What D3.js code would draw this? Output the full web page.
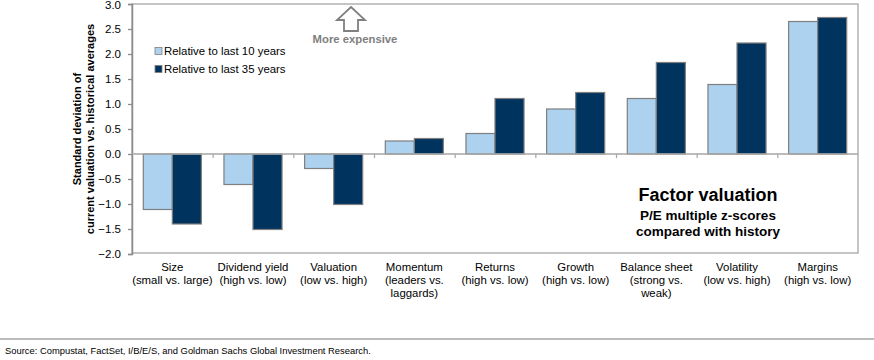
<!DOCTYPE html>
<html><head><meta charset="utf-8">
<script src="https://cdn.jsdelivr.net/npm/d3@7"></script>
<style>
body{margin:0;background:#fff;}
text{font-family:"Liberation Sans",Arial,sans-serif;}
</style></head>
<body>
<svg id="c" width="874" height="360"></svg>
<script>
const categories = [
  ["Size","(small vs. large)"],
  ["Dividend yield","(high vs. low)"],
  ["Valuation","(low vs. high)"],
  ["Momentum","(leaders vs.","laggards)"],
  ["Returns","(high vs. low)"],
  ["Growth","(high vs. low)"],
  ["Balance sheet","(strong vs.","weak)"],
  ["Volatility","(low vs. high)"],
  ["Margins","(high vs. low)"]
];
const seriesNames = ["Relative to last 10 years","Relative to last 35 years"];
const last10 = [-1.11,-0.61,-0.29,0.26,0.41,0.90,1.11,1.39,2.65];
const last35 = [-1.40,-1.51,-1.01,0.31,1.11,1.23,1.83,2.22,2.73];
const yTicks = [-2.0,-1.5,-1.0,-0.5,0.0,0.5,1.0,1.5,2.0,2.5,3.0];
const colors = ["#acd2ef","#00345e"];

const svg = d3.select("#c");
const L=132,R=858,T=4,B=254;
const x = d3.scaleBand().domain(categories.map((d,i)=>i)).range([L,R]).paddingInner(0.28).paddingOuter(0.14);
const y = d3.scaleLinear().domain([-2,3]).range([B,T]);
const xs = d3.scaleBand().domain([0,1]).range([0,x.bandwidth()]);

// plot frame
svg.append("rect").attr("x",L).attr("y",T).attr("width",R-L).attr("height",B-T-1)
  .attr("fill","none").attr("stroke","#a6a6a6").attr("stroke-width",1.3);

// y axis
const yAxis = d3.axisLeft(y).tickValues(yTicks).tickFormat(d3.format(".1f")).tickSize(4).tickPadding(7);
const ga = svg.append("g").attr("transform",`translate(${L},0)`).call(yAxis);
ga.select(".domain").attr("stroke","#8c8c8c").attr("stroke-width",1.5);
ga.selectAll(".tick line").attr("stroke","#8c8c8c").attr("stroke-width",1.3);
ga.selectAll(".tick text").attr("font-size",11.5).attr("fill","#000").style("font-family","Liberation Sans, Arial, sans-serif");
ga.selectAll(".tick text").filter(d=>d===3).attr("dy","0.4em");

// bars
const series=[last10,last35];
series.forEach((vals,s)=>{
  svg.append("g").selectAll("rect").data(vals).join("rect")
    .attr("x",(d,i)=>x(i)+xs(s))
    .attr("width",xs.bandwidth())
    .attr("y",d=>y(Math.max(0,d)))
    .attr("height",d=>Math.abs(y(d)-y(0)))
    .attr("fill",colors[s]).attr("stroke","#7f7f7f").attr("stroke-width",1.2);
});

// zero line with category ticks
const zx = d3.scaleLinear().domain([0,categories.length]).range([L,R]);
const gz = svg.append("g").attr("transform",`translate(0,${y(0)})`)
  .call(d3.axisBottom(zx).ticks(categories.length).tickSize(4).tickFormat(""));
gz.select(".domain").attr("stroke","#a6a6a6").attr("stroke-width",1.5).attr("d",`M${L},0H${R}`);
gz.selectAll(".tick line").attr("stroke","#a6a6a6").attr("stroke-width",1.2);
gz.selectAll(".tick").filter(d=>d===0||d===categories.length).remove();

// category labels
categories.forEach((lines,i)=>{
  const t = svg.append("text").attr("x",x(i)+x.bandwidth()/2).attr("y",271)
    .attr("text-anchor","middle").attr("font-size",11.4).attr("fill","#000");
  lines.forEach((ln,k)=>t.append("tspan").attr("x",x(i)+x.bandwidth()/2).attr("dy",k===0?0:13).text(ln));
});

// y axis title
const yt = svg.append("text").attr("transform","translate(81,129) rotate(-90)")
  .attr("text-anchor","middle").attr("font-size",11).attr("font-weight","bold").attr("fill","#000");
yt.append("tspan").attr("x",0).attr("dy",0).text("Standard deviation of");
yt.append("tspan").attr("x",0).attr("dy",12.5).text("current valuation vs.  historical averages");

// legend
seriesNames.forEach((n,i)=>{
  const ly = 51 + i*18;
  svg.append("rect").attr("x",155).attr("y",ly-3.5).attr("width",7).attr("height",7)
    .attr("fill",colors[i]).attr("stroke","#7f7f7f").attr("stroke-width",0.8);
  svg.append("text").attr("x",164).attr("y",ly+4).attr("font-size",11.4).attr("fill","#000").text(n);
});

// arrow
const ax=351;
svg.append("path")
  .attr("d",`M${ax},7 L${ax+14},20 L${ax+7},20 L${ax+7},31 L${ax-7},31 L${ax-7},20 L${ax-14},20 Z`)
  .attr("fill","none").attr("stroke","#808080").attr("stroke-width",1.8).attr("stroke-linejoin","miter");
svg.append("text").attr("x",355).attr("y",43).attr("text-anchor","middle")
  .attr("font-size",11.3).attr("font-weight","bold").attr("fill","#808080").text("More expensive");

// title block
svg.append("text").attr("x",708).attr("y",201).attr("text-anchor","middle")
  .attr("font-size",18).attr("font-weight","bold").attr("fill","#000").text("Factor valuation");
svg.append("text").attr("x",708).attr("y",220).attr("text-anchor","middle")
  .attr("font-size",13.5).attr("font-weight","bold").attr("fill","#000").text("P/E multiple z-scores");
svg.append("text").attr("x",708).attr("y",236).attr("text-anchor","middle")
  .attr("font-size",13.5).attr("font-weight","bold").attr("fill","#000").text("compared with history");

// footer
svg.append("line").attr("x1",0).attr("x2",874).attr("y1",339).attr("y2",339)
  .attr("stroke","#a6a6a6").attr("stroke-width",1.3);
svg.append("text").attr("x",5).attr("y",354).attr("font-size",9.4).attr("fill","#000")
  .text("Source: Compustat, FactSet, I/B/E/S, and Goldman Sachs Global Investment Research.");
</script>
</body></html>
